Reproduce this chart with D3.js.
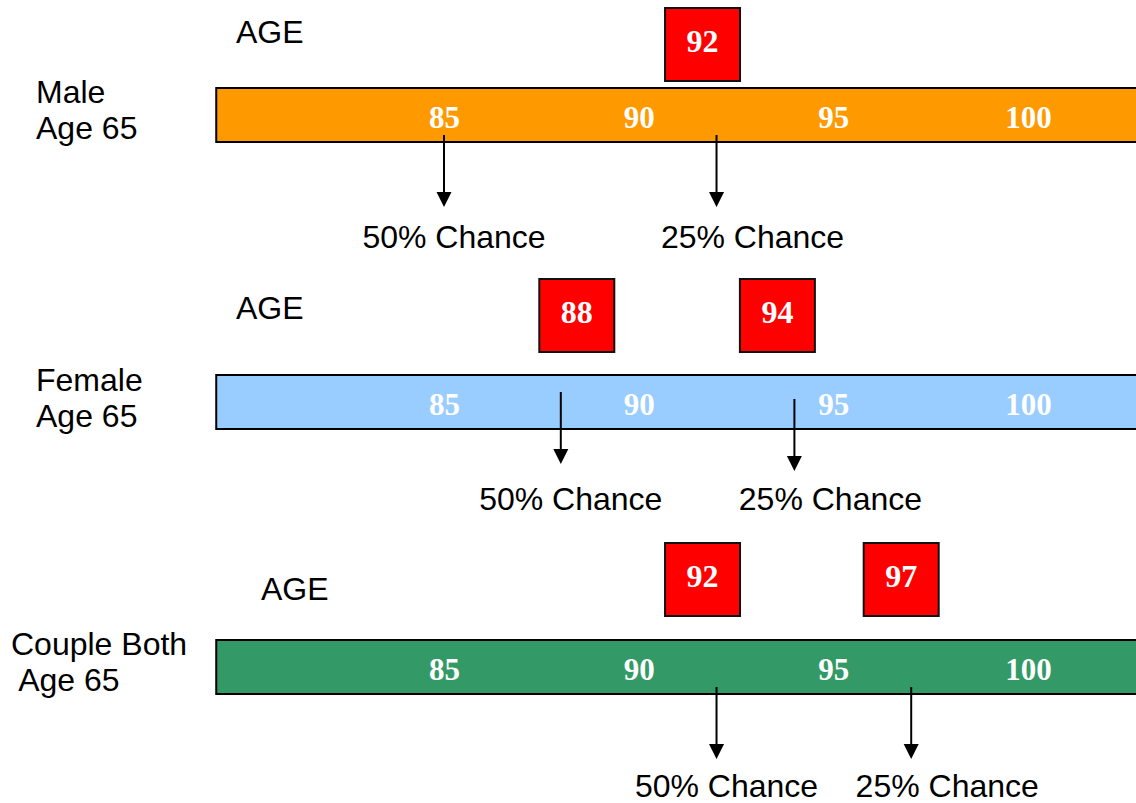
<!DOCTYPE html>
<html>
<head>
<meta charset="utf-8">
<script src="https://cdn.jsdelivr.net/npm/d3@7"></script>
<style>
  html, body { margin: 0; padding: 0; background: #ffffff; }
  svg { display: block; }
  .sans { font-family: "Liberation Sans", Arial, sans-serif; font-size: 32px; fill: #000; white-space: pre; }
  .serif { font-family: "Liberation Serif", "Times New Roman", serif; font-weight: bold; font-size: 31px; fill: #fff; }
  .boxnum { font-size: 32px; }
</style>
</head>
<body>
<svg id="chart" width="1136" height="803"></svg>
<script>
// Life-expectancy odds at age 65
const groupLabels = [["Male", "Age 65"], ["Female", "Age 65"], ["Couple Both", " Age 65"]];
const barColors = ["#FF9900", "#99CCFF", "#339966"];
const tickAges = [85, 90, 95, 100];
const chance50 = [85, 88, 92];        // age with a 50% chance of reaching it
const chance25 = [92, 94, 97];        // age with a 25% chance of reaching it
const boxedAges = [[92], [88, 94], [92, 97]];
const chanceLabels = ["50% Chance", "25% Chance"];
const axisTitle = "AGE";

// Vertical placement of each row, plus small horizontal nudges for the age boxes
const layout = [
  { barTop: 88,  boxTop: 8,   boxDx: [-14],      ageX: 236, ageY: 43,  labelX: 36, labelY: 103, arrowTop: [135, 135], chanceY: 248 },
  { barTop: 375, boxTop: 279, boxDx: [16, -17],  ageX: 236, ageY: 319, labelX: 36, labelY: 391, arrowTop: [392, 399], chanceY: 510 },
  { barTop: 640, boxTop: 543, boxDx: [-14, -10], ageX: 261, ageY: 600, labelX: 11, labelY: 655, arrowTop: [687, 687], chanceY: 797 }
];

const W = 1136, barH = 54, boxW = 75, boxH = 73, arrowLen = 72, headW = 15, headH = 15;
const x = d3.scaleLinear().domain([85, 100]).range([444, 1028]);
const svg = d3.select("#chart");

layout.forEach((L, i) => {
  const g = svg.append("g");

  // group label
  const lbl = g.append("text").attr("class", "sans").attr("x", L.labelX).attr("y", L.labelY);
  groupLabels[i].forEach((t, j) => {
    lbl.append("tspan").attr("x", L.labelX).attr("dy", j === 0 ? 0 : 36).text(t);
  });

  // "AGE" title
  g.append("text").attr("class", "sans").attr("x", L.ageX).attr("y", L.ageY).text(axisTitle);

  // age bar
  g.append("rect")
    .attr("x", x(79.15)).attr("y", L.barTop)
    .attr("width", W + 10 - x(79.15)).attr("height", barH)
    .attr("fill", barColors[i]).attr("stroke", "#000").attr("stroke-width", 2);

  // tick labels inside the bar
  const axis = d3.axisBottom(x).tickValues(tickAges).tickSize(0).tickFormat(d3.format("d"));
  const ax = g.append("g").attr("transform", `translate(0,${L.barTop})`).call(axis);
  ax.select(".domain").remove();
  ax.attr("font-family", null).attr("font-size", null);
  ax.selectAll("text")
    .attr("class", "serif")
    .attr("y", 40).attr("dy", null)
    .attr("fill", "#fff");

  // red boxes with ages
  boxedAges[i].forEach((a, k) => {
    const cx = x(a) + L.boxDx[k];
    g.append("rect")
      .attr("x", cx - boxW / 2).attr("y", L.boxTop)
      .attr("width", boxW).attr("height", boxH)
      .attr("fill", "#FF0000").attr("stroke", "#111").attr("stroke-width", 2);
    g.append("text").attr("class", "serif boxnum")
      .attr("x", cx).attr("y", L.boxTop + 44)
      .attr("text-anchor", "middle").text(a);
  });

  // arrows and chance labels
  [chance50[i], chance25[i]].forEach((a, k) => {
    const ax0 = x(a), top = L.arrowTop[k], tip = top + arrowLen;
    g.append("line")
      .attr("x1", ax0).attr("x2", ax0).attr("y1", top).attr("y2", tip - headH + 1)
      .attr("stroke", "#000").attr("stroke-width", 2);
    g.append("path")
      .attr("d", d3.line()([[ax0 - headW / 2, tip - headH], [ax0 + headW / 2, tip - headH], [ax0, tip]]) + "Z")
      .attr("fill", "#000");
    g.append("text").attr("class", "sans")
      .attr("x", ax0 + (k === 0 ? 10 : 36)).attr("y", L.chanceY)
      .attr("text-anchor", "middle").text(chanceLabels[k]);
  });
});
</script>
</body>
</html>
